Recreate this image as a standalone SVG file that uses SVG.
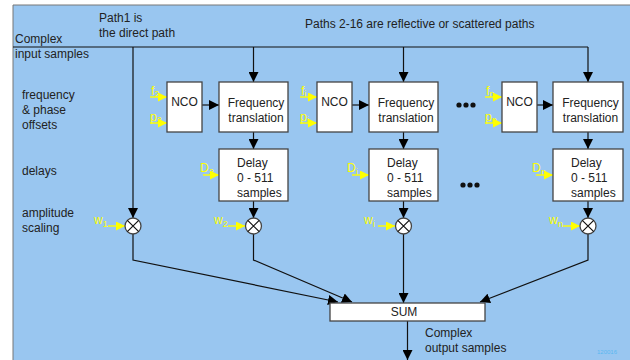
<svg xmlns="http://www.w3.org/2000/svg" width="630" height="360" viewBox="0 0 630 360">
<defs>
<style>
.t{font-family:"Liberation Sans",Arial,sans-serif;font-size:12px;fill:#222}
.y{font-family:"Liberation Sans",Arial,sans-serif;font-size:12px;fill:#ffff00}
.ys{font-size:9px}
.box{fill:#fff;stroke:#444;stroke-width:1.3}
.c{fill:none;stroke:#111;stroke-width:1.2}
.ya{fill:none;stroke:#ffff00;stroke-width:1.4}
.x{stroke:#111;stroke-width:1.2}
</style>
<marker id="ah" viewBox="0 0 10 10" refX="10" refY="5" markerWidth="10" markerHeight="10" markerUnits="userSpaceOnUse" orient="auto">
<path d="M0,0 L10,5 L0,10 z" fill="#000"/>
</marker>
<marker id="yh" viewBox="0 0 10 10" refX="10" refY="5" markerWidth="9" markerHeight="9" markerUnits="userSpaceOnUse" orient="auto">
<path d="M0,0 L10,5 L0,10 z" fill="#ffff00"/>
</marker>
</defs>
<rect x="0" y="0" width="630" height="360" fill="#fff"/>
<rect x="13" y="5" width="617" height="355" fill="#99c6f0"/>
<path d="M13,360 V5 H630" fill="none" stroke="#777" stroke-width="1"/>

<g id="labels">
<text class="t" x="15" y="43">Complex</text>
<text class="t" x="15" y="58">input samples</text>
<text class="t" x="99" y="22">Path1 is</text>
<text class="t" x="99" y="37">the direct path</text>
<text class="t" x="305" y="28">Paths 2-16 are reflective or scattered paths</text>
<text class="t" x="22" y="99">frequency</text>
<text class="t" x="22" y="114">&amp; phase</text>
<text class="t" x="22" y="129">offsets</text>
<text class="t" x="22" y="175">delays</text>
<text class="t" x="22" y="217">amplitude</text>
<text class="t" x="22" y="232">scaling</text>
<text class="t" x="425" y="337">Complex</text>
<text class="t" x="425" y="352">output samples</text>
<text x="597" y="354" font-family="Liberation Sans,Arial,sans-serif" font-size="6" fill="#5ab8f0">120016</text>
</g>

<g id="connectors">
<path class="c" d="M13,47 H588"/>
<path class="c" d="M133,47 V218" marker-end="url(#ah)"/>
<path class="c" d="M253.5,47 V82" marker-end="url(#ah)"/>
<path class="c" d="M403.5,47 V82" marker-end="url(#ah)"/>
<path class="c" d="M588,47 V82" marker-end="url(#ah)"/>
<path class="c" d="M202,105 H219" marker-end="url(#ah)"/>
<path class="c" d="M352,105 H369" marker-end="url(#ah)"/>
<path class="c" d="M537,105 H553" marker-end="url(#ah)"/>
<path class="c" d="M253.5,132 V149" marker-end="url(#ah)"/>
<path class="c" d="M403.5,132 V149" marker-end="url(#ah)"/>
<path class="c" d="M588,132 V149" marker-end="url(#ah)"/>
<path class="c" d="M253.5,201 V218" marker-end="url(#ah)"/>
<path class="c" d="M403.5,201 V218" marker-end="url(#ah)"/>
<path class="c" d="M588,201 V218" marker-end="url(#ah)"/>
<path class="c" d="M133,234 V260 L338,302" marker-end="url(#ah)"/>
<path class="c" d="M253.5,234 V260 L352,302" marker-end="url(#ah)"/>
<path class="c" d="M403.5,234 V303" marker-end="url(#ah)"/>
<path class="c" d="M588,234 V260 L480,302" marker-end="url(#ah)"/>
<path class="c" d="M407.5,321 V360" marker-end="url(#ah)"/>
</g>

<g id="inputs">
<path class="ya" d="M150,97 H167" marker-end="url(#yh)"/>
<path class="ya" d="M150,123 H167" marker-end="url(#yh)"/>
<path class="ya" d="M300,97 H317" marker-end="url(#yh)"/>
<path class="ya" d="M300,123 H317" marker-end="url(#yh)"/>
<path class="ya" d="M485,97 H502" marker-end="url(#yh)"/>
<path class="ya" d="M485,123 H502" marker-end="url(#yh)"/>
<path class="ya" d="M203,175 H219" marker-end="url(#yh)"/>
<path class="ya" d="M352,175 H369" marker-end="url(#yh)"/>
<path class="ya" d="M536,175 H553" marker-end="url(#yh)"/>
<path class="ya" d="M108,226 H125" marker-end="url(#yh)"/>
<path class="ya" d="M228,226 H245" marker-end="url(#yh)"/>
<path class="ya" d="M378,226 H395" marker-end="url(#yh)"/>
<path class="ya" d="M563,226 H580" marker-end="url(#yh)"/>
<text class="y" x="151" y="95">f<tspan class="ys" dy="2">2</tspan></text>
<text class="y" x="150" y="121">p<tspan class="ys" dy="2">2</tspan></text>
<text class="y" x="301" y="95">f<tspan class="ys" dy="2">i</tspan></text>
<text class="y" x="300" y="121">p<tspan class="ys" dy="2">i</tspan></text>
<text class="y" x="486" y="95">f<tspan class="ys" dy="2">n</tspan></text>
<text class="y" x="485" y="121">p<tspan class="ys" dy="2">n</tspan></text>
<text class="y" x="200" y="172">D<tspan class="ys" dy="3">2</tspan></text>
<text class="y" x="347" y="172">D<tspan class="ys" dy="3">i</tspan></text>
<text class="y" x="532" y="172">D<tspan class="ys" dy="3">n</tspan></text>
<text class="y" x="94" y="224">w<tspan class="ys" dy="3">1</tspan></text>
<text class="y" x="214" y="224">w<tspan class="ys" dy="3">2</tspan></text>
<text class="y" x="364" y="224">w<tspan class="ys" dy="3">i</tspan></text>
<text class="y" x="549" y="224">w<tspan class="ys" dy="3">n</tspan></text>
</g>

<g id="dots" fill="#111">
<circle cx="459" cy="105" r="2.6"/><circle cx="466" cy="105" r="2.6"/><circle cx="473" cy="105" r="2.6"/>
<circle cx="463" cy="185" r="2.6"/><circle cx="470" cy="185" r="2.6"/><circle cx="477" cy="185" r="2.6"/>
</g>

<g id="nco1"><rect class="box" x="167" y="82" width="35" height="50"/><text class="t" x="184.5" y="106" text-anchor="middle">NCO</text></g>
<g id="ft1"><rect class="box" x="219" y="82" width="69" height="50"/><text class="t" x="256" y="107" text-anchor="middle">Frequency</text><text class="t" x="256" y="122" text-anchor="middle">translation</text></g>
<g id="delay1"><rect class="box" x="219" y="149" width="69" height="52"/><text class="t" x="237" y="167">Delay</text><text class="t" x="237" y="182">0 - 511</text><text class="t" x="237" y="197">samples</text></g>

<g id="nco2"><rect class="box" x="317" y="82" width="35" height="50"/><text class="t" x="334.5" y="106" text-anchor="middle">NCO</text></g>
<g id="ft2"><rect class="box" x="369" y="82" width="69" height="50"/><text class="t" x="406" y="107" text-anchor="middle">Frequency</text><text class="t" x="406" y="122" text-anchor="middle">translation</text></g>
<g id="delay2"><rect class="box" x="369" y="149" width="69" height="52"/><text class="t" x="387" y="167">Delay</text><text class="t" x="387" y="182">0 - 511</text><text class="t" x="387" y="197">samples</text></g>

<g id="nco3"><rect class="box" x="502" y="82" width="35" height="50"/><text class="t" x="519.5" y="106" text-anchor="middle">NCO</text></g>
<g id="ft3"><rect class="box" x="553" y="82" width="70" height="50"/><text class="t" x="590.5" y="107" text-anchor="middle">Frequency</text><text class="t" x="590.5" y="122" text-anchor="middle">translation</text></g>
<g id="delay3"><rect class="box" x="553" y="149" width="70" height="52"/><text class="t" x="571" y="167">Delay</text><text class="t" x="571" y="182">0 - 511</text><text class="t" x="571" y="197">samples</text></g>

<g id="mul1"><circle class="box" cx="133" cy="226" r="8"/><path class="x" d="M127.3,220.3 L138.7,231.7 M138.7,220.3 L127.3,231.7"/></g>
<g id="mul2"><circle class="box" cx="253.5" cy="226" r="8"/><path class="x" d="M247.8,220.3 L259.2,231.7 M259.2,220.3 L247.8,231.7"/></g>
<g id="mul3"><circle class="box" cx="403.5" cy="226" r="8"/><path class="x" d="M397.8,220.3 L409.2,231.7 M409.2,220.3 L397.8,231.7"/></g>
<g id="mul4"><circle class="box" cx="588" cy="226" r="8"/><path class="x" d="M582.3,220.3 L593.7,231.7 M593.7,220.3 L582.3,231.7"/></g>

<g id="sum"><rect class="box" x="330" y="303" width="155" height="18"/><text class="t" x="404" y="316" text-anchor="middle">SUM</text></g>
</svg>
